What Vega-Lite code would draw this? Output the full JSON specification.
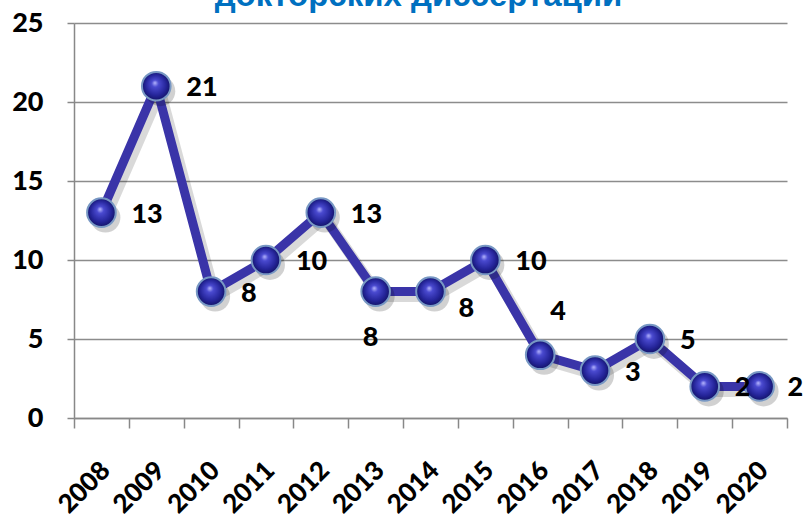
{
  "$schema": "https://vega.github.io/schema/vega-lite/v6.json",
  "width": 713,
  "height": 395,
  "autosize": "none",
  "padding": {"left": 74, "top": 23, "right": 18, "bottom": 98},
  "background": "white",
  "title": {
    "text": "докторских диссертаций",
    "font": "Liberation Sans",
    "fontSize": 33,
    "fontWeight": "bold",
    "color": "#0070C0",
    "anchor": "middle",
    "baseline": "alphabetic",
    "offset": 0,
    "dy": 30,
    "dx": -12
  },
  "config": {
    "view": {"stroke": null},
    "text": {"font": "Lato", "fontWeight": 900, "fontSize": 27, "color": "#000000"}
  },
  "data": {
    "values": [
      {"year": "2008", "value": 13},
      {"year": "2009", "value": 21},
      {"year": "2010", "value": 8},
      {"year": "2011", "value": 10},
      {"year": "2012", "value": 13},
      {"year": "2013", "value": 8},
      {"year": "2014", "value": 8},
      {"year": "2015", "value": 10},
      {"year": "2016", "value": 4},
      {"year": "2017", "value": 3},
      {"year": "2018", "value": 5},
      {"year": "2019", "value": 2},
      {"year": "2020", "value": 2}
    ]
  },
  "encoding": {
    "x": {
      "field": "year",
      "type": "ordinal",
      "bandPosition": 0.5,
      "scale": {"type": "band", "paddingInner": 0, "paddingOuter": 0},
      "axis": {
        "title": null,
        "tickBand": "extent",
        "domainColor": "#888888",
        "domainWidth": 1.5,
        "tickColor": "#888888",
        "tickWidth": 1.5,
        "tickSize": 10,
        "labelAngle": -45,
        "labelAlign": "right",
        "labelBaseline": "middle",
        "labelFont": "Lato",
        "labelFontWeight": 900,
        "labelFontSize": 26,
        "labelColor": "#000000",
        "labelPadding": 38,
        "labelOffset": 4
      }
    },
    "y": {
      "field": "value",
      "type": "quantitative",
      "scale": {"domain": [0, 25], "nice": false},
      "axis": {
        "title": null,
        "values": [0, 5, 10, 15, 20, 25],
        "grid": true,
        "gridColor": "#8c8c8c",
        "gridWidth": 1.5,
        "domainColor": "#888888",
        "domainWidth": 1.5,
        "tickColor": "#888888",
        "tickWidth": 1.5,
        "tickSize": 7,
        "labelFont": "Lato",
        "labelFontWeight": 900,
        "labelFontSize": 27,
        "labelColor": "#000000",
        "labelPadding": 24
      }
    }
  },
  "layer": [
    {
      "mark": {"type": "line", "color": "#000000", "opacity": 0.15, "strokeWidth": 11, "xOffset": 4, "yOffset": 5, "strokeJoin": "round"}
    },
    {
      "mark": {"type": "line", "color": "#3A34A8", "strokeWidth": 9, "strokeJoin": "miter"}
    },
    {
      "mark": {"type": "circle", "size": 900, "opacity": 0.18, "color": "#000000", "xOffset": 4, "yOffset": 5}
    },
    {
      "mark": {
        "type": "circle",
        "size": 820,
        "opacity": 1,
        "fill": {
          "gradient": "radial",
          "x1": 0.45, "y1": 0.38, "r1": 0,
          "x2": 0.5, "y2": 0.5, "r2": 0.55,
          "stops": [
            {"offset": 0, "color": "#b8b8ff"},
            {"offset": 0.22, "color": "#4a4ad0"},
            {"offset": 0.65, "color": "#25259a"},
            {"offset": 1, "color": "#0e0e5a"}
          ]
        },
        "stroke": "#7898c4",
        "strokeWidth": 2
      }
    },
    {
      "transform": [{"filter": "indexof(['2013','2014','2016','2020'], datum.year) < 0"}],
      "mark": {"type": "text", "align": "left", "baseline": "middle", "dx": 30, "dy": 2},
      "encoding": {"text": {"field": "value", "type": "quantitative"}}
    },
    {
      "transform": [{"filter": "datum.year == '2020'"}],
      "mark": {"type": "text", "align": "left", "baseline": "middle", "dx": 28, "dy": 2},
      "encoding": {"text": {"field": "value", "type": "quantitative"}}
    },
    {
      "transform": [{"filter": "datum.year == '2013'"}],
      "mark": {"type": "text", "align": "center", "baseline": "middle", "dx": -5, "dy": 46},
      "encoding": {"text": {"field": "value", "type": "quantitative"}}
    },
    {
      "transform": [{"filter": "datum.year == '2014'"}],
      "mark": {"type": "text", "align": "left", "baseline": "middle", "dx": 28, "dy": 17},
      "encoding": {"text": {"field": "value", "type": "quantitative"}}
    },
    {
      "transform": [{"filter": "datum.year == '2016'"}],
      "mark": {"type": "text", "align": "center", "baseline": "middle", "dx": 18, "dy": -43},
      "encoding": {"text": {"field": "value", "type": "quantitative"}}
    }
  ]
}
